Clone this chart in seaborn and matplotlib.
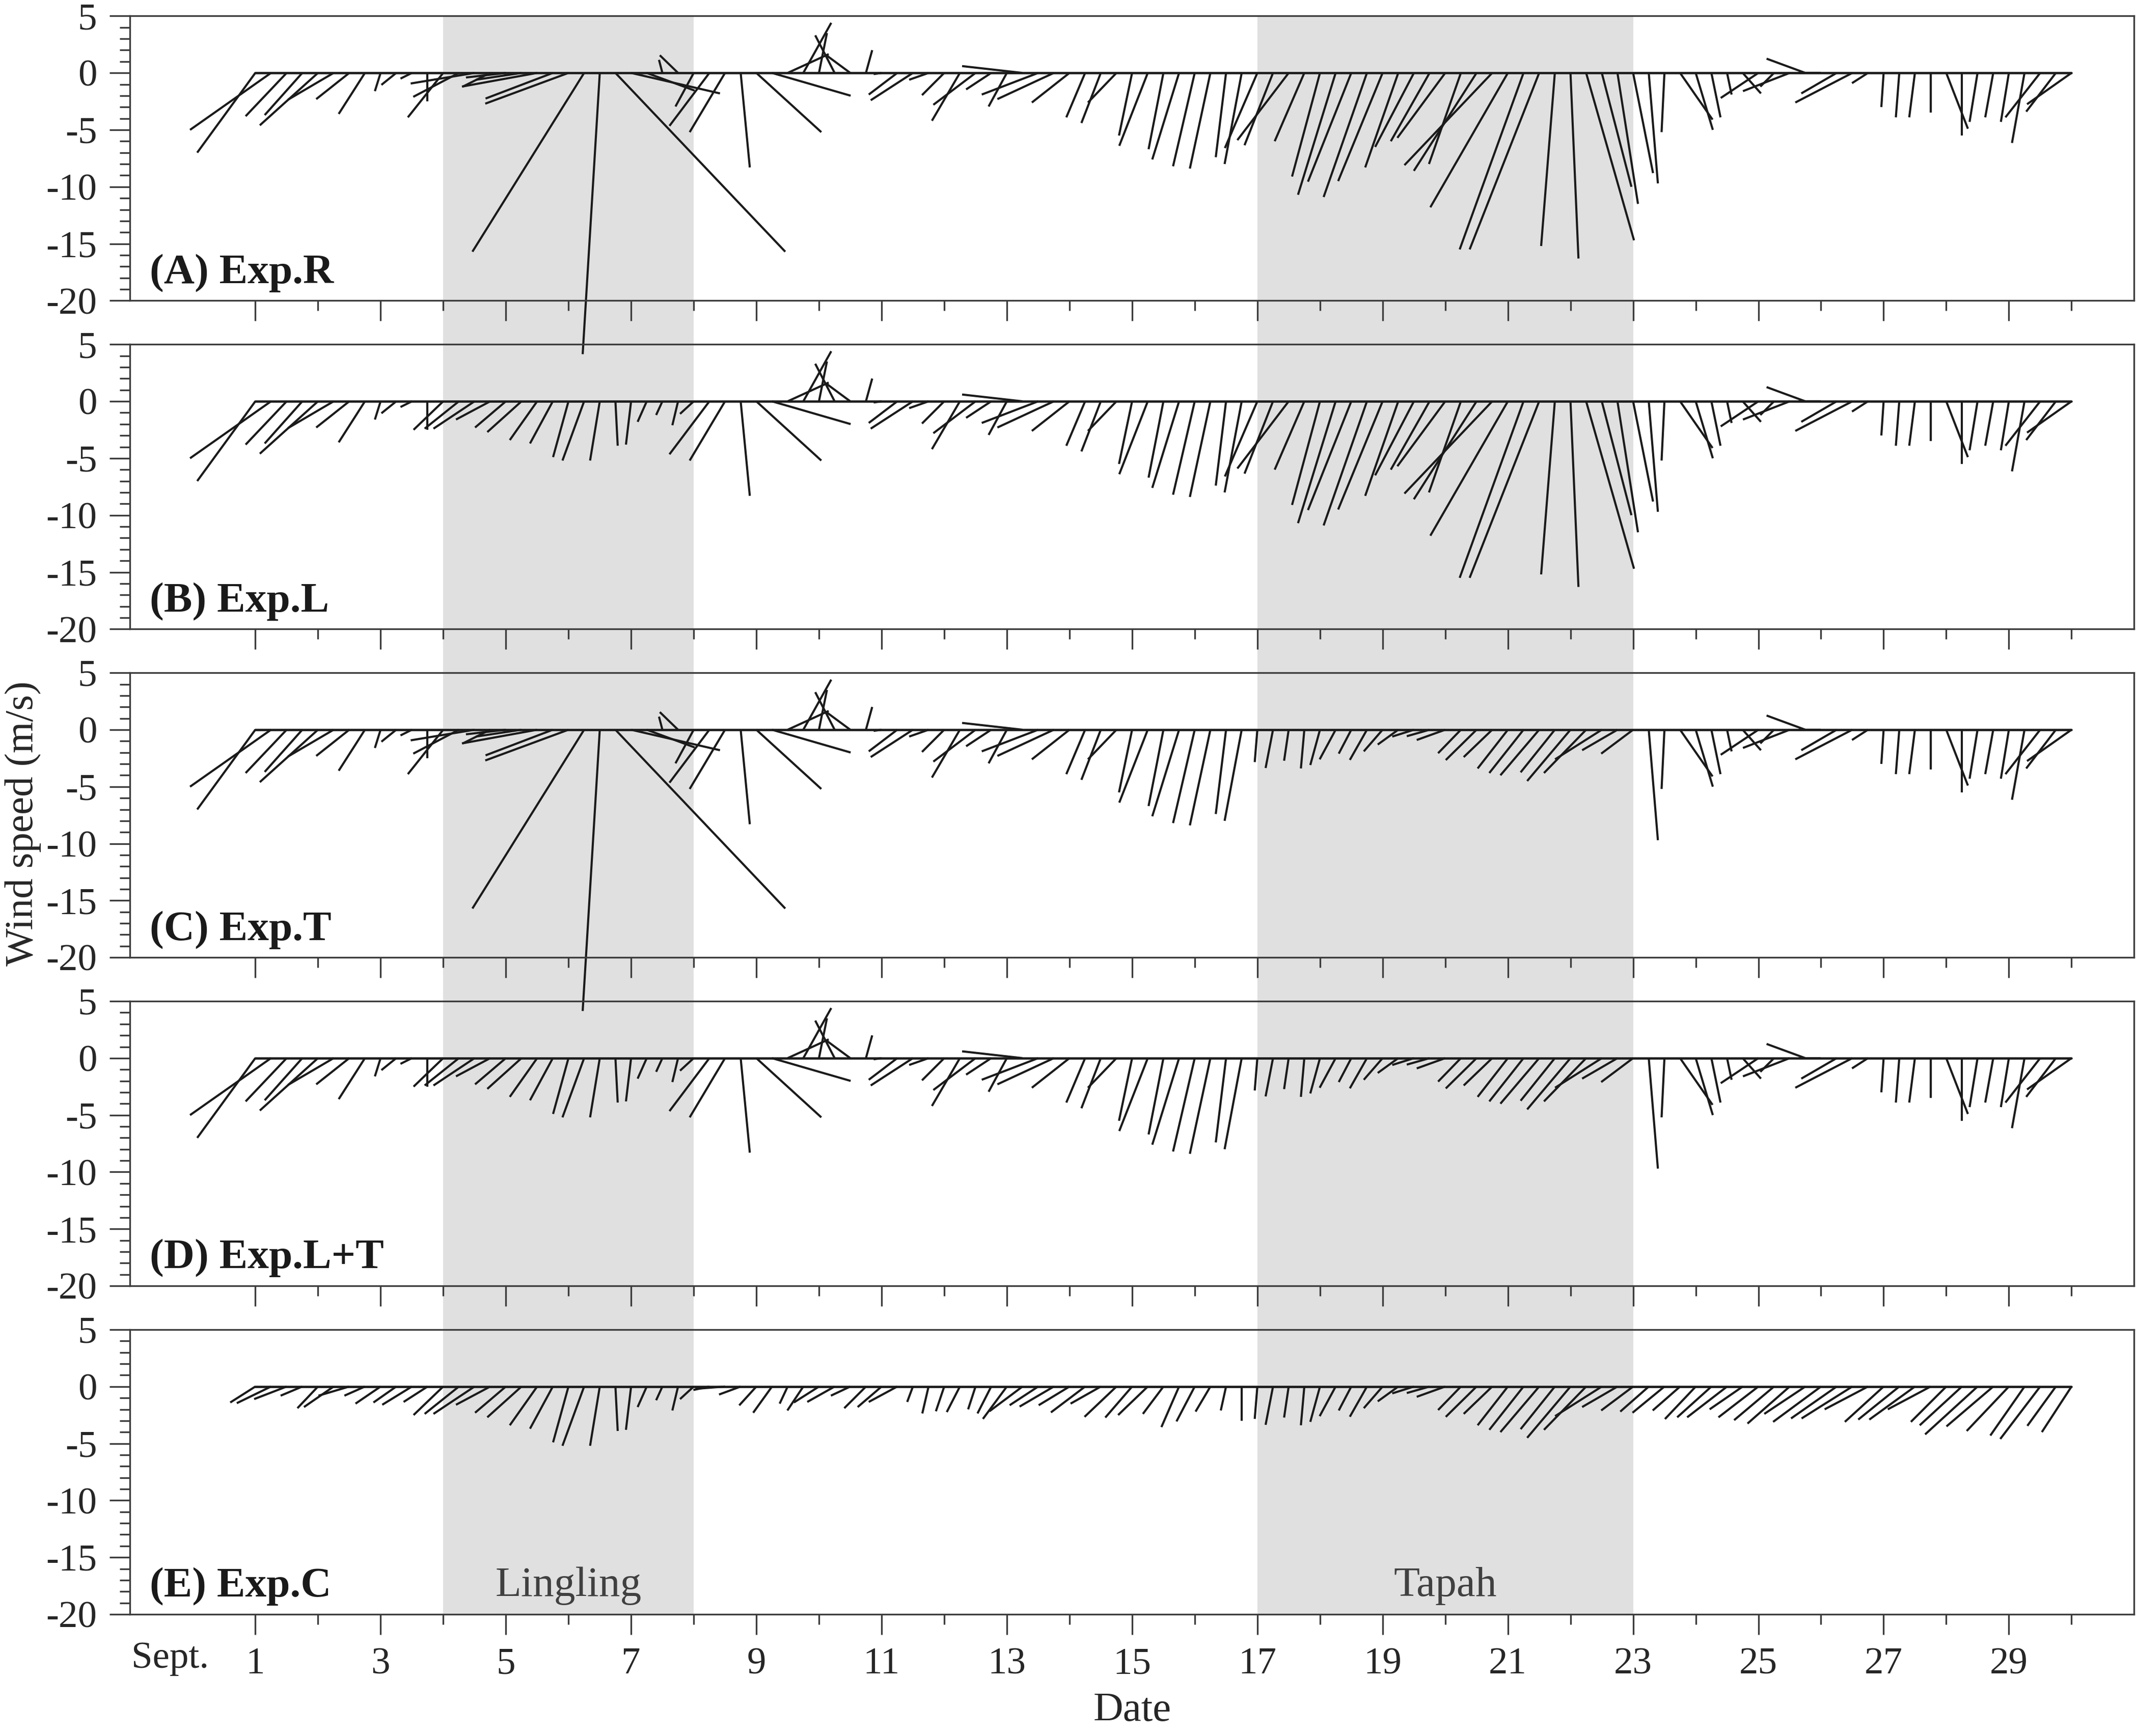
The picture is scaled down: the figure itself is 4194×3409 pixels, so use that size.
import numpy as np
import matplotlib
matplotlib.use('Agg')
import matplotlib.pyplot as plt
import matplotlib.transforms as mtransforms
from matplotlib.collections import LineCollection
from matplotlib.ticker import MultipleLocator, FixedLocator
import seaborn as sns

sns.set_theme(style='ticks')
plt.rcParams['font.family'] = ['Liberation Serif', 'DejaVu Serif']
plt.rcParams['axes.unicode_minus'] = False

# 6-hourly stick times, 1 Sept 00h .. 30 Sept 00h
t = np.arange(1, 30.01, 0.25)

# Exp.R (full run) wind components, m/s, one row per day (00,06,12,18h)
u_r = [-5.1, -7.1, -3.6, -3.3,
       -5.1, -4.0, -2.9, -2.3,
       -0.5, -1.3, -1.0, 0.0,
       -3.1, -4.0, -5.6, -2.4,
       -3.5, -4.0, -6.6, -5.9,
       -7.3, -9.8, -1.5, 14.9,
       7.8, 4.2, -0.3, -1.6,
       -1.6, -3.5, -3.1, 0.8,
       5.7, 6.9, 3.6, 2.45,
       0.7, -1.7, -2.1, 0.55,
       -0.7, -2.5, -3.7, -1.7,
       -1.95, -2.45, -3.7, -2.2,
       -1.6, -5.3, -4.95, -4.95,
       -3.3, -1.65, -1.7, -2.5,
       -1.15, -2.5, -1.3, -2.35,
       -1.9, -1.8, -0.9, -1.5,
       -2.85, -2.5, -4.5, -2.6,
       -2.45, -3.3, -3.8, -3.8,
       -3.9, -2.9, -3.4, -3.4,
       -4.2, -2.8, -5.5, -7.7,
       -6.8, -5.6, -6.1, -1.2,
       0.7, 4.2, 2.6, 1.8,
       1.75, 0.8, -0.25, 2.85,
       1.5, 0.8, 0.4, 1.6,
       -3.3, -1.2, -4.1, -3.4,
       -2.0, -3.1, -5.0, -1.4,
       -0.2, -0.3, -0.5, 0.0,
       1.9, 0.0, -0.7, -0.7,
       -0.7, -1.1, -3.05, -2.6,
       -3.9]
v_r = [-7.0, -5.0, -3.8, -3.7,
       -4.6, -2.35, -2.3, -3.6,
       -1.6, -1.05, -0.5, -2.5,
       -3.9, -2.1, -0.93, -1.2,
       -0.4, -0.6, -1.2, -2.25,
       -2.7, -15.7, -24.7, -15.7,
       -1.8, -1.55, 1.15, 1.55,
       -2.95, -4.65, -5.2, -8.3,
       -5.2, -2.0, 1.65, 4.4,
       3.5, 3.3, 1.55, 2.0,
       -0.1, -1.9, -2.4, -0.6,
       -1.95, -4.2, -2.8, -1.45,
       -2.95, 0.6, -1.9, -2.3,
       -2.6, -3.9, -4.4, -2.6,
       -5.5, -6.4, -6.7, -7.6,
       -8.2, -8.4, -7.4, -8.0,
       -6.6, -6.35, -5.9, -6.0,
       -9.1, -10.7, -9.55, -10.9,
       -9.5, -8.3, -6.5, -6.0,
       -5.7, -8.0, -8.6, -8.1,
       -11.8, -15.5, -15.5, -15.2,
       -16.3, -14.7, -10.0, -11.5,
       -8.8, -9.7, -5.2, -4.1,
       -5.0, -3.9, -1.9, -1.8,
       -2.2, -1.2, -1.6, 1.25,
       0.0, -1.8, -2.6, -0.9,
       -3.0, -3.9, -3.9, -3.5,
       -4.9, -5.5, -4.3, -3.9,
       -4.3, -6.15, -3.9, -3.4,
       -2.75]

# Exp.C (climatological) wind components, m/s
u_c = [-2.2, -3.0, -2.85, -1.9,
       -1.8, -2.6, -2.7, -1.8,
       -2.2, -2.0, -2.6, -2.1,
       -2.6, -3.0, -3.6, -3.0,
       -2.7, -3.0, -2.4, -2.0,
       -1.35, -1.9, -0.85, 0.2,
       -0.45, -0.8, -0.55, -0.5,
       -1.2, -1.4, -2.6, -1.9,
       -1.5, -1.65, -0.7, -1.4,
       -2.2, -2.4, -1.7, -1.9,
       -2.1, -2.5, -0.5, -0.55,
       -0.73, -1.15, -0.65, -1.2,
       -2.1, -2.9, -2.5, -3.0,
       -2.7, -3.0, -2.65, -2.8,
       -2.35, -2.6, -1.8, -1.55,
       -1.6, -1.3, -0.46, 0.0,
       -0.23, -0.65, -0.4, -0.3,
       -0.85, -1.4, -1.1, -1.5,
       -1.65, -1.8, -1.9, -2.0,
       -2.5, -2.0, -2.7, -2.5,
       -2.65, -3.0, -3.4, -3.0,
       -3.8, -3.7, -4.1, -3.1,
       -2.8, -2.5, -2.8, -2.4,
       -2.7, -3.0, -3.5, -2.9,
       -3.5, -3.5, -3.7, -3.6,
       -4.2, -4.0, -4.45, -3.8,
       -3.4, -3.6, -4.0, -3.75,
       -3.1, -3.7, -4.6, -4.1,
       -3.7, -3.0, -3.5, -2.5,
       -2.6]
v_c = [-1.4, -1.46, -1.1, -0.8,
       -1.9, -1.8, -0.8, -0.8,
       -1.5, -1.4, -1.6, -1.35,
       -2.5, -2.4, -2.4, -1.6,
       -2.3, -2.7, -3.4, -3.7,
       -4.9, -5.2, -5.2, -3.9,
       -3.8, -1.8, -1.2, -2.1,
       -1.1, -0.3, -0.2, -0.7,
       -1.65, -2.3, -1.5, -2.1,
       -1.4, -1.35, -0.8, -1.9,
       -1.8, -1.35, -1.35, -2.36,
       -2.17, -2.24, -2.0, -2.36,
       -2.84, -2.17, -1.64, -1.76,
       -1.64, -2.27, -1.5, -2.66,
       -2.72, -2.5, -2.4, -3.56,
       -3.06, -2.2, -2.1, -3.0,
       -2.84, -3.36, -2.72, -3.4,
       -3.1, -2.6, -2.1, -2.65,
       -1.9, -1.3, -0.6, -0.57,
       -0.9, -2.06, -2.66, -2.4,
       -3.4, -3.8, -4.0, -3.74,
       -4.5, -3.8, -2.6, -1.8,
       -2.1, -2.2, -2.3, -2.1,
       -2.85, -2.7, -2.7, -2.0,
       -2.7, -2.95, -3.25, -2.4,
       -3.1, -2.8, -2.8, -2.0,
       -3.1, -2.9, -2.9, -2.0,
       -3.1, -3.4, -4.2, -3.5,
       -3.9, -4.3, -4.6, -3.45,
       -4.0]

lingling = (4, 8)   # typhoon windows (days of Sept.)
tapah = (17, 23)
panel_labels = ['(A) Exp.R', '(B) Exp.L', '(C) Exp.T', '(D) Exp.L+T', '(E) Exp.C']

u_r, v_r, u_c, v_c = map(np.array, (u_r, v_r, u_c, v_c))
in_l = (t >= lingling[0]) & (t <= lingling[1])
in_t = (t >= tapah[0]) & (t <= tapah[1])
experiments = [
    (u_r, v_r),
    (np.where(in_l, u_c, u_r), np.where(in_l, v_c, v_r)),
    (np.where(in_t, u_c, u_r), np.where(in_t, v_c, v_r)),
    (np.where(in_l | in_t, u_c, u_r), np.where(in_l | in_t, v_c, v_r)),
    (u_c, v_c),
]

K = 0.182          # days of x-axis per m/s of u (keeps stick angles true)
W, H = 4194, 3409
left, width = 255.4 / W, (4190.3 - 255.4) / W
ph = 559 / H
tops = [31.4 + i * 644.9 for i in range(5)]
bottoms = [1 - (tp + 559) / H for tp in tops]
spine_c = '#3c3c3c'

fig = plt.figure(figsize=(W / 300, H / 300), dpi=300)

# grey typhoon bands behind all panels
bg = fig.add_axes([left, bottoms[-1], width, 1 - tops[0] / H - bottoms[-1]])
bg.set_xlim(-1, 31)
bg.axvspan(*lingling, color='#e0e0e0', lw=0)
bg.axvspan(*tapah, color='#e0e0e0', lw=0)
bg.axis('off')

axes = []
for i, ((u, v), lab) in enumerate(zip(experiments, panel_labels)):
    ax = fig.add_axes([left, bottoms[i], width, ph])
    ax.set_facecolor('none')
    sns.lineplot(x=t, y=np.zeros_like(t), ax=ax, color='k', lw=1.1)
    segs = np.stack([np.column_stack([t, np.zeros_like(t)]),
                     np.column_stack([t + u * K, v])], axis=1)
    lc = LineCollection(segs, colors='k', linewidths=1.0, capstyle='butt')
    lc.set_clip_on(False)
    ax.add_collection(lc)

    ax.set_xlim(-1, 31)
    ax.set_ylim(-20, 5)
    ax.set_yticks([-20, -15, -10, -5, 0, 5])
    ax.yaxis.set_minor_locator(MultipleLocator(1))
    ax.set_xticks(range(1, 30, 2))
    ax.xaxis.set_minor_locator(FixedLocator(range(2, 31, 2)))
    ax.tick_params(which='major', direction='out', length=9.6, width=0.8,
                   color=spine_c, labelsize=18, labelcolor='#262626', pad=6,
                   right=False, top=False)
    ax.tick_params(which='minor', direction='out', length=4.8, width=0.8,
                   color=spine_c, right=False, top=False)
    ax.tick_params(axis='x', labelbottom=(i == 4))
    for s in ax.spines.values():
        s.set_visible(True)
        s.set_color(spine_c)
        s.set_linewidth(0.8)
    ax.set_xlabel('')
    ax.set_ylabel('')
    ax.text(-0.69, -18.45, lab, fontsize=20, fontweight='bold',
            ha='left', va='baseline', color='k')
    axes.append(ax)

axE = axes[-1]
axE.text(6, -18.4, 'Lingling', ha='center', va='baseline', fontsize=20, color='#404040')
axE.text(20, -18.4, 'Tapah', ha='center', va='baseline', fontsize=20, color='#404040')
trans = mtransforms.blended_transform_factory(axE.transData, axE.transAxes)
axE.text(-0.98, -0.188, 'Sept.', transform=trans, ha='left', va='baseline',
         fontsize=18, color='#262626')
axE.set_xlabel('Date', fontsize=19.5, color='#262626', labelpad=5)
fig.text(45 / W, 1 - 1617 / H, 'Wind speed (m/s)', rotation=90, ha='center',
         va='center', fontsize=19, color='#262626')

fig.savefig('out.png', dpi=300, facecolor='white')
